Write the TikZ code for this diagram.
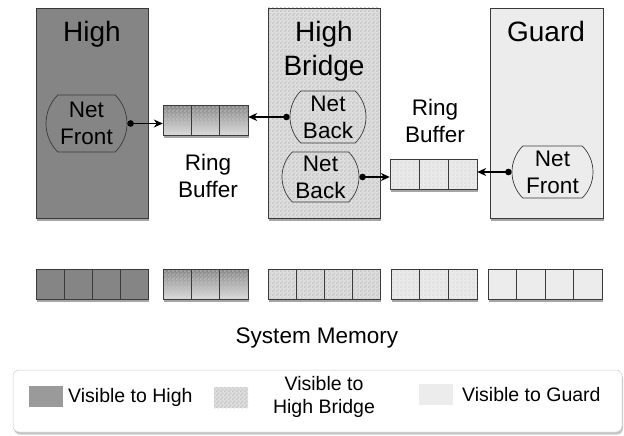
\documentclass[tikz,border=0pt]{standalone}
\usepackage{fontspec}
\setmainfont{Liberation Sans}
\usetikzlibrary{arrows.meta,shapes.misc,shadows,patterns,calc}
\pgfdeclarepatternformonly{checks}{\pgfpointorigin}{\pgfqpoint{4pt}{4pt}}{\pgfqpoint{4pt}{4pt}}{%
  \pgfpathrectangle{\pgfpointorigin}{\pgfqpoint{2pt}{2pt}}%
  \pgfpathrectangle{\pgfqpoint{2pt}{2pt}}{\pgfqpoint{2pt}{2pt}}%
  \pgfusepath{fill}}
\definecolor{darkfill}{HTML}{858585}
\definecolor{hatchbase}{HTML}{DEDEDE}
\definecolor{hatchdots}{HTML}{C8C8C8}
\definecolor{lightfill}{HTML}{ECECEC}
\definecolor{edge}{HTML}{3A3A3A}
\definecolor{swatchdark}{HTML}{9A9A9A}
\tikzset{
  shad/.style={drop shadow={shadow xshift=1pt,shadow yshift=-2.5pt,opacity=0.35,fill=black}},
  pane/.style={draw=edge,line width=0.9pt},
  title/.style={font=\fontsize{28}{34}\selectfont,align=center,anchor=base},
  netnode/.style={rounded rectangle,rounded rectangle arc length=90,draw=edge,line width=0.7pt,
     inner sep=0pt,align=center,font=\fontsize{22.5}{27}\selectfont},
  lbl/.style={font=\fontsize{22.5}{27}\selectfont,align=center,anchor=base},
  leg/.style={font=\fontsize{19.5}{23}\selectfont,align=center},
  conn/.style={line width=1.2pt,{Circle[length=6.5pt]}-{Stealth[length=9pt,width=8pt]}},
  cellline/.style={draw=edge,line width=0.9pt}
}
\begin{document}
\begin{tikzpicture}[x=1pt,y=-1pt]
\useasboundingbox (0,0) rectangle (624,436);
% ---- main panes
\fill[darkfill,shad] (36,8) rectangle (148,218);
\draw[pane] (36,8) rectangle (148,218);
\fill[hatchbase,shad] (268,8) rectangle (380,218);
\fill[pattern=checks,pattern color=hatchdots] (268,8) rectangle (380,218);
\draw[pane] (268,8) rectangle (380,218);
\fill[lightfill,shad] (490,8) rectangle (603,218);
\draw[pane] (490,8) rectangle (603,218);
\node[title] (tHigh) at (92,42) {High};
\node[title] (tBridge) at (324,76) {High\\Bridge};
\node[title] (tGuard) at (546,42) {Guard};
% ---- net nodes
\node[netnode,minimum width=81pt,minimum height=57pt] (nf1) at (86.5,123.5) {Net\\Front};
\node[netnode,minimum width=76pt,minimum height=52pt] (nb1) at (328,117) {Net\\Back};
\node[netnode,minimum width=77pt,minimum height=50pt] (nb2) at (320.5,177) {Net\\Back};
\node[netnode,minimum width=81pt,minimum height=52pt] (nf2) at (552.5,172) {Net\\Front};
% ---- ring buffer 1 (gradient)
\fill[shad,top color=darkfill,bottom color=hatchbase] (163,105) rectangle (248,135);
\fill[pattern=checks,pattern color=hatchdots,opacity=0.5] (163,105) rectangle (248,135);
\draw[cellline] (163,105) rectangle (248,135);
\draw[cellline] (191.3,105) -- (191.3,135) (219.7,105) -- (219.7,135);
\node[inner sep=0pt,minimum width=85pt,minimum height=30pt] (rb1) at (205.5,120) {};
% ---- ring buffer 2 (light hatch)
\fill[shad,lightfill] (390,159) rectangle (477,189);
\fill[pattern=checks,pattern color=hatchbase] (390,159) rectangle (477,189);
\draw[cellline] (390,159) rectangle (477,189);
\draw[cellline] (419,159) -- (419,189) (448,159) -- (448,189);
\node[inner sep=0pt,minimum width=87pt,minimum height=30pt] (rb2) at (433.5,174) {};
\node[lbl] (rbl1) at (208,197) {Ring\\Buffer};
\node[lbl] (rbl2) at (435,142) {Ring\\Buffer};
% ---- connectors
\draw[conn] (nf1.east) -- (nf1.east -| rb1.west);
\draw[conn] (nb1.west) -- (nb1.west -| rb1.east);
\draw[conn] (nb2.east) -- (nb2.east -| rb2.west);
\draw[conn] (nf2.west) -- (nf2.west -| rb2.east);
% ---- system memory
\fill[darkfill,shad] (36,269) rectangle (148,299);
\draw[cellline] (36,269) rectangle (148,299);
\draw[cellline] (64,269) -- (64,299) (92,269) -- (92,299) (120,269) -- (120,299);
\fill[shad,top color=darkfill,bottom color=hatchbase] (163,269) rectangle (248,299);
\fill[pattern=checks,pattern color=hatchdots,opacity=0.5] (163,269) rectangle (248,299);
\draw[cellline] (163,269) rectangle (248,299);
\draw[cellline] (191.3,269) -- (191.3,299) (219.7,269) -- (219.7,299);
\fill[hatchbase,shad] (268,269) rectangle (380,299);
\fill[pattern=checks,pattern color=hatchdots] (268,269) rectangle (380,299);
\draw[cellline] (268,269) rectangle (380,299);
\draw[cellline] (296,269) -- (296,299) (324,269) -- (324,299) (352,269) -- (352,299);
\fill[shad,lightfill] (391,269) rectangle (477,299);
\fill[pattern=checks,pattern color=hatchbase] (391,269) rectangle (477,299);
\draw[cellline] (391,269) rectangle (477,299);
\draw[cellline] (419.7,269) -- (419.7,299) (448.3,269) -- (448.3,299);
\fill[lightfill,shad] (488,269) rectangle (602,299);
\draw[cellline] (488,269) rectangle (602,299);
\draw[cellline] (516.5,269) -- (516.5,299) (545,269) -- (545,299) (573.5,269) -- (573.5,299);
\node[lbl] (sysmem) at (317,343) {System Memory};
% ---- legend
\fill[white,rounded corners=6pt,drop shadow={shadow xshift=1pt,shadow yshift=-2.5pt,opacity=0.45}] (13,370) rectangle (622,432);
\draw[draw=black!20,line width=0.5pt,rounded corners=6pt] (13,370) rectangle (622,432);
\fill[swatchdark] (29,386) rectangle (63,407);
\fill[hatchbase] (214,387) rectangle (248,408);
\fill[pattern=checks,pattern color=hatchdots] (214,387) rectangle (248,408);
\fill[lightfill] (419,384) rectangle (453,405);
\node[leg,anchor=west,inner sep=0pt] (l1) at (68,397) {Visible to High};
\node[leg,inner sep=0pt] (l2) at (324,397) {Visible to\\High Bridge};
\node[leg,anchor=west,inner sep=0pt] (l3) at (462,395) {Visible to Guard};
\end{tikzpicture}
\end{document}
